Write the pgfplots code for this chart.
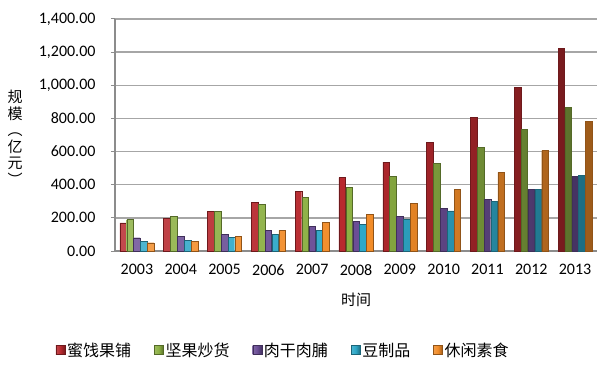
\documentclass[border=0pt]{standalone}
\usepackage{pgfplots}
\pgfplotsset{compat=1.18}
\usepackage{pgfplotstable}
\usepackage{fontspec}
\setmainfont{Carlito}
\newfontfamily\cjk{Noto Sans CJK SC}
\definecolor{cR}{HTML}{B8292E}
\definecolor{cG}{HTML}{8CB043}
\definecolor{cP}{HTML}{6B4E96}
\definecolor{cC}{HTML}{2EA8C8}
\definecolor{cO}{HTML}{F28C28}
\definecolor{gridc}{HTML}{A6A6A6}
\definecolor{axc}{HTML}{8C8C8C}
\pgfplotstableread{
x a b c d e
0 170 190 80 60 50
1 195 209 89 65 58
2 241 241 101 83 89
3 294 282 125 101 125
4 360 324 149 125 173
5 443 383 179 159 221
6 537 451 209 191 288
7 656 529 256 242 372
8 807 624 310 298 475
9 986 734 372 372 606
10 1223 867 451 457 783
}\data
\begin{document}
\begin{tikzpicture}
\useasboundingbox (-115pt,-116pt) rectangle (487pt,251pt);
\begin{axis}[
  scale only axis, width=482pt, height=232pt,
  ybar=0.3pt, bar width=0.15,
  xmin=-0.5, xmax=10.5, ymin=0, ymax=1400,
  axis x line*=bottom, axis y line*=left,
  axis line style={axc, line width=1.4pt, -},
  xtick={0,...,10},
  xticklabels={2003,2004,2005,2006,2007,2008,2009,2010,2011,2012,2013},
  x tick style={draw=none},
  minor xtick={-0.5,0.5,...,10.5},
  minor x tick style={axc, line width=1.2pt},
  minor tick length=5pt,
  ytick={0,200,...,1400},
  y tick style={axc, line width=1pt},
  major tick length=4pt,
  tick align=outside,
  ymajorgrids, grid style={gridc, line width=1.3pt},
  tick label style={font=\fontsize{16}{18}\selectfont, black},
  yticklabel style={xshift=-12pt},
  xticklabel style={yshift=-6pt},
  /pgf/number format/.cd, fixed, fixed zerofill, precision=2, 1000 sep={,}, assume math mode=true,
  /pgfplots/.cd,
  xlabel={\cjk 时间},
  xlabel style={at={(axis description cs:0.5,-0.211)}, anchor=center, font=\fontsize{15}{17}\selectfont},
  legend columns=5,
  legend style={at={(axis description cs:0.349,-0.427)}, anchor=center, draw=none, fill=none,
    font=\fontsize{16}{18}\selectfont\cjk, /tikz/every even column/.append style={column sep=21pt}},
  legend image code/.code={\draw[#1, line width=0.4pt] (0pt,-4.5pt) rectangle (9pt,4.5pt);},
  clip=false,
]
\addplot[draw=cR!60!black, left color=cR!85!white, right color=cR!65!black, middle color=cR] table[x=x,y=a]{\data};
\addplot[draw=cG!60!black, left color=cG!85!white, right color=cG!65!black, middle color=cG] table[x=x,y=b]{\data};
\addplot[draw=cP!60!black, left color=cP!85!white, right color=cP!65!black, middle color=cP] table[x=x,y=c]{\data};
\addplot[draw=cC!60!black, left color=cC!85!white, right color=cC!65!black, middle color=cC] table[x=x,y=d]{\data};
\addplot[draw=cO!60!black, left color=cO!85!white, right color=cO!65!black, middle color=cO] table[x=x,y=e]{\data};
\legend{蜜饯果铺,坚果炒货,肉干肉脯,豆制品,休闲素食}
\node[align=center, font=\fontsize{15}{16.5}\selectfont\cjk, inner sep=0pt] at (axis description cs:-0.207,0.487) {规\\模\\︵\\亿\\元\\︶};
\end{axis}
\end{tikzpicture}
\end{document}
